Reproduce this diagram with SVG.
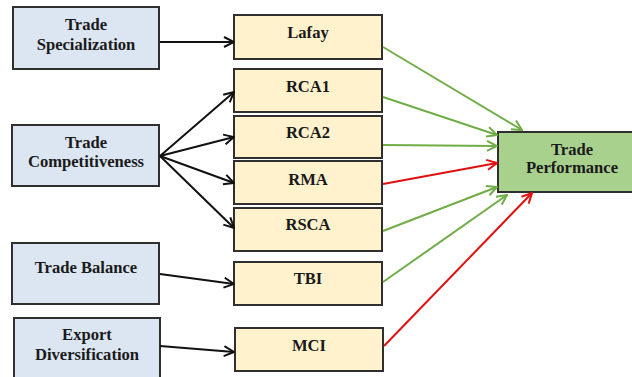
<svg xmlns="http://www.w3.org/2000/svg" width="632" height="377" viewBox="0 0 632 377">
<style>
  .src rect { fill: #dce6f2; stroke: #2f2f2f; stroke-width: 2; }
  .mid rect { fill: #fff2cc; stroke: #2f2f2f; stroke-width: 2; }
  .out rect { fill: #a9d18e; stroke: #2f2f2f; stroke-width: 2; }
  text { font-weight: bold; font-size: 16.6px; fill: #1a1a1a; text-anchor: middle; }
  .blk { stroke: #111; stroke-width: 2; fill: none; marker-end: url(#ab); }
  .grn { stroke: #70ad47; stroke-width: 2; fill: none; marker-end: url(#ag); }
  .red { stroke: #e01010; stroke-width: 2; fill: none; marker-end: url(#ar); }
</style>
<defs>
  <marker id="ab" viewBox="0 0 12 12" refX="11" refY="6" markerWidth="12" markerHeight="12" markerUnits="userSpaceOnUse" orient="auto">
    <path d="M1,1 L11,6 L1,11" fill="none" stroke="#111" stroke-width="2"/>
  </marker>
  <marker id="ag" viewBox="0 0 12 12" refX="11" refY="6" markerWidth="12" markerHeight="12" markerUnits="userSpaceOnUse" orient="auto">
    <path d="M1,1 L11,6 L1,11" fill="none" stroke="#70ad47" stroke-width="2"/>
  </marker>
  <marker id="ar" viewBox="0 0 12 12" refX="11" refY="6" markerWidth="12" markerHeight="12" markerUnits="userSpaceOnUse" orient="auto">
    <path d="M1,1 L11,6 L1,11" fill="none" stroke="#e01010" stroke-width="2"/>
  </marker>
</defs>
<rect width="632" height="377" fill="#ffffff"/>

<g font-family="'Liberation Serif', 'DejaVu Serif', serif">
<g id="spec" class="src"><rect x="13" y="7" width="146" height="62"/><text x="86" y="30">Trade</text><text x="86" y="50">Specialization</text></g>
<g id="comp" class="src"><rect x="12" y="125" width="147" height="61"/><text x="86" y="148">Trade</text><text x="86" y="167">Competitiveness</text></g>
<g id="bal" class="src"><rect x="12" y="243" width="147" height="61"/><text x="86" y="273">Trade Balance</text></g>
<g id="exp" class="src"><rect x="14" y="318" width="146" height="70"/><text x="87" y="340">Export</text><text x="87" y="360">Diversification</text></g>

<g id="lafay" class="mid"><rect x="234" y="15" width="148" height="44"/><text x="308" y="38">Lafay</text></g>
<g id="rca1" class="mid"><rect x="234" y="69" width="148" height="43"/><text x="308" y="92">RCA1</text></g>
<g id="rca2" class="mid"><rect x="234" y="116" width="148" height="42"/><text x="308" y="138">RCA2</text></g>
<g id="rma" class="mid"><rect x="234" y="161" width="148" height="43"/><text x="308" y="185">RMA</text></g>
<g id="rsca" class="mid"><rect x="234" y="208" width="148" height="43"/><text x="308" y="230">RSCA</text></g>
<g id="tbi" class="mid"><rect x="234" y="262" width="148" height="43"/><text x="308" y="284">TBI</text></g>
<g id="mci" class="mid"><rect x="235" y="328" width="148" height="43"/><text x="309" y="351">MCI</text></g>

<g id="perf" class="out"><rect x="498" y="132" width="150" height="60"/><text x="572" y="155">Trade</text><text x="572" y="173">Performance</text></g>
</g>

<g id="connectors">
  <line class="blk" x1="160" y1="42" x2="234" y2="42"/>
  <line class="blk" x1="160" y1="156" x2="234" y2="92"/>
  <line class="blk" x1="160" y1="156" x2="234" y2="137"/>
  <line class="blk" x1="160" y1="156" x2="234" y2="183"/>
  <line class="blk" x1="160" y1="156" x2="234" y2="228"/>
  <line class="blk" x1="160" y1="274" x2="234" y2="284"/>
  <line class="blk" x1="160" y1="346" x2="234" y2="352"/>

  <line class="grn" x1="383" y1="47" x2="522" y2="130"/>
  <line class="grn" x1="383" y1="97" x2="497" y2="135"/>
  <line class="grn" x1="383" y1="145" x2="497" y2="146"/>
  <line class="red" x1="383" y1="184" x2="497" y2="163"/>
  <line class="grn" x1="383" y1="231" x2="497" y2="187"/>
  <line class="grn" x1="383" y1="282" x2="507" y2="195"/>
  <line class="red" x1="384" y1="346" x2="532" y2="193"/>
</g>
</svg>
